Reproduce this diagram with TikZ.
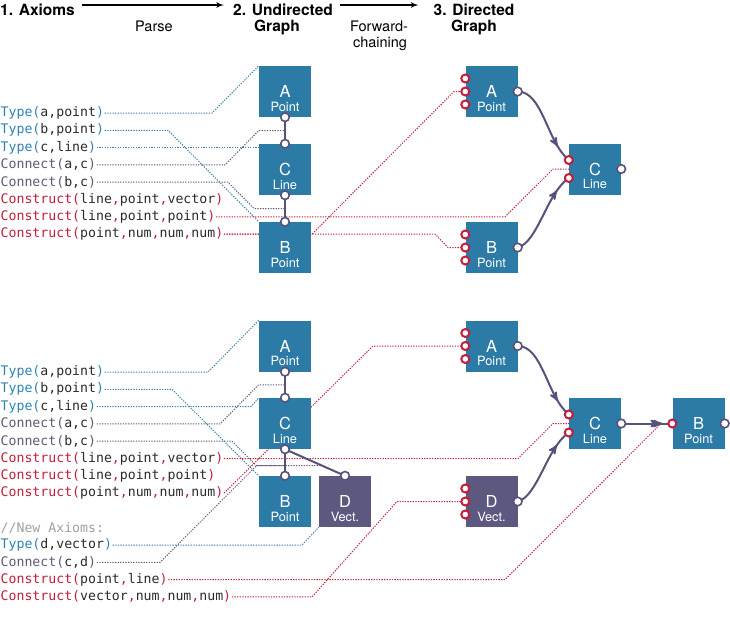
\documentclass[tikz,border=0pt]{standalone}
\usepackage{fontspec}
\setmainfont{TeX Gyre Heros}
\setmonofont{DejaVu Sans Mono}
\usepackage{xcolor}
\usetikzlibrary{arrows, decorations.markings, backgrounds}
\definecolor{boxblue}{HTML}{2C7AA6}
\definecolor{boxpurple}{HTML}{5D5880}
\definecolor{linkcol}{HTML}{57527A}
\definecolor{tycol}{HTML}{2D82B5}
\definecolor{cncol}{HTML}{5E5A7A}
\definecolor{cscol}{HTML}{C41E3A}
\definecolor{argcol}{HTML}{2A2A2A}
\definecolor{tydots}{HTML}{3F7DAA}
\tikzstyle{block}=[rectangle, minimum width=52pt, minimum height=51pt, inner sep=0pt, text=white, font=\fontsize{16.5}{16.5}\selectfont]
\tikzstyle{ublock}=[block, fill=boxblue]
\tikzstyle{vblock}=[block, fill=boxpurple]
\tikzstyle{typ}=[anchor=south, inner sep=0pt, yshift=5.5pt, text=white, font=\fontsize{12.8}{12.8}\selectfont]
\tikzstyle{axiom}=[anchor=west, inner sep=0.5pt, text=argcol, font=\ttfamily\fontsize{13.2}{13.2}\selectfont]
\tikzstyle{head}=[anchor=base, inner sep=0pt, font=\bfseries\fontsize{15.5}{15.5}\selectfont]
\tikzstyle{note}=[anchor=base, inner sep=0pt, font=\fontsize{14.5}{14.5}\selectfont]
\tikzstyle{link}=[draw=linkcol, line width=2pt]
\tikzstyle{outport}=[draw=linkcol, fill=white, line width=1.6pt]
\tikzstyle{inport}=[draw=cscol, fill=white, line width=2pt]
\tikzstyle{dots}=[line width=1pt, dash pattern=on 1.3pt off 1.3pt]
\tikzstyle{tyline}=[dots, draw=tydots]
\tikzstyle{cnline}=[dots, draw=cncol]
\tikzstyle{csline}=[dots, draw=cscol]
\tikzstyle{flow}=[draw=linkcol, line width=2pt, postaction={decorate}, decoration={markings, mark=at position 0.8 with {\arrow{stealth'}}}]
\newcommand{\Ty}[1]{{\color{tycol}Type(}#1{\color{tycol})}}
\newcommand{\Cn}[1]{{\color{cncol}Connect(}#1{\color{cncol})}}
\newcommand{\Cs}[1]{{\color{cscol}Construct(}#1{\color{cscol})}}
\def\cc{{\color{cscol},}}

\begin{document}
\begin{tikzpicture}[x=1pt, y=-1pt]
	\useasboundingbox (0,0) rectangle (730,622);
	% headings
	\node[head, anchor=base west] (h1) at (0,15) {1. Axioms};
	\node[head] (h2) at (283,15) {2. Undirected};
	\node[head] (h2b) at (277,31) {Graph};
	\node[head] (h3) at (474,15) {3. Directed};
	\node[head] (h3b) at (474,31) {Graph};
	\node[note] (parse) at (154,31) {Parse};
	\node[note] (fwd) at (379,31) {Forward-};
	\node[note] (fwdb) at (380,47) {chaining};
	\draw[-latex', line width=1.6pt] ([xshift=7pt, yshift=10pt]h1.base east) -- ([xshift=-9pt, yshift=10pt]h2.base west);
	\draw[-latex', line width=1.6pt] ([xshift=7pt, yshift=10pt]h2.base east) -- ([xshift=-15pt, yshift=10pt]h3.base west);

	% axioms, first set
	\node[axiom] (t1) at (0,113) {\Ty{a,point}};
	\node[axiom] (t2) at (0,130.3) {\Ty{b,point}};
	\node[axiom] (t3) at (0,147.6) {\Ty{c,line}};
	\node[axiom] (t4) at (0,164.9) {\Cn{a,c}};
	\node[axiom] (t5) at (0,182.2) {\Cn{b,c}};
	\node[axiom] (t6) at (0,199.5) {\Cs{line\cc point\cc vector}};
	\node[axiom] (t7) at (0,216.8) {\Cs{line\cc point\cc point}};
	\node[axiom] (t8) at (0,234.1) {\Cs{point\cc num\cc num\cc num}};

	% axioms, second set
	\node[axiom] (u1) at (0,372) {\Ty{a,point}};
	\node[axiom] (u2) at (0,389.3) {\Ty{b,point}};
	\node[axiom] (u3) at (0,406.6) {\Ty{c,line}};
	\node[axiom] (u4) at (0,423.9) {\Cn{a,c}};
	\node[axiom] (u5) at (0,441.2) {\Cn{b,c}};
	\node[axiom] (u6) at (0,458.5) {\Cs{line\cc point\cc vector}};
	\node[axiom] (u7) at (0,475.8) {\Cs{line\cc point\cc point}};
	\node[axiom] (u8) at (0,493.1) {\Cs{point\cc num\cc num\cc num}};
	\node[axiom, text=gray!75] (u9) at (0,527.7) {//New Axioms:};
	\node[axiom] (u10) at (0,545) {\Ty{d,vector}};
	\node[axiom] (u11) at (0,562.3) {\Cn{c,d}};
	\node[axiom] (u12) at (0,579.6) {\Cs{point\cc line}};
	\node[axiom] (u13) at (0,596.9) {\Cs{vector\cc num\cc num\cc num}};

	% undirected graphs
	\node[ublock, label={[typ]south:Point}] (A1) at (285,91.5) {A};
	\node[ublock, label={[typ]south:Line}] (C1) at (285,169.5) {C};
	\node[ublock, label={[typ]south:Point}] (B1) at (285,247.5) {B};
	\node[ublock, label={[typ]south:Point}] (A3) at (285,346) {A};
	\node[ublock, label={[typ]south:Line}] (C3) at (285,423.5) {C};
	\node[ublock, label={[typ]south:Point}] (B3) at (285,501.5) {B};
	\node[vblock, label={[typ]south:Vect.}] (D3) at (345,501.5) {D};

	% directed graphs
	\node[ublock, label={[typ]south:Point}] (A2) at (491.5,91.5) {A};
	\node[ublock, label={[typ]south:Point}] (B2) at (491.5,247.5) {B};
	\node[ublock, label={[typ]south:Line}] (C2) at (595,169) {C};
	\node[ublock, label={[typ]south:Point}] (A4) at (491.5,346) {A};
	\node[vblock, label={[typ]south:Vect.}] (D4) at (491.5,501.5) {D};
	\node[ublock, label={[typ]south:Line}] (C4) at (595,423.5) {C};
	\node[ublock, label={[typ]south:Point}] (B4) at (698.5,423.5) {B};

	\draw[link] (A1.south) -- coordinate[midway] (mAC1) (C1.north);
	\draw[link] (C1.south) -- coordinate[midway] (mCB1) (B1.north);
	\draw[link] (A3.south) -- coordinate[midway] (mAC3) (C3.north);
	\draw[link] (C3.south) -- coordinate[pos=0.62] (mCB3) (B3.north);
	\draw[link] (C3.south) -- coordinate[pos=0.62] (mCD3) (D3.north);

	\draw[flow] (A2.east) .. controls +(25,0) and +(-22,-18) .. ([yshift=9pt]C2.west);
	\draw[flow] (B2.east) .. controls +(20,-5) and +(-22,15) .. ([yshift=-9pt]C2.west);
	\draw[flow] (A4.east) .. controls +(25,0) and +(-22,-18) .. ([yshift=9pt]C4.west);
	\draw[flow] (D4.east) .. controls +(20,-5) and +(-22,15) .. ([yshift=-9pt]C4.west);
	\draw[flow, decoration={markings, mark=at position 0.75 with {\arrow{stealth'}}}] (C4.east) -- (B4.west);

	% ports
	\draw[outport] (A1.south) circle (4.3pt);
	\draw[outport] (C1.north) circle (4.3pt);
	\draw[outport] (C1.south) circle (4.3pt);
	\draw[outport] (B1.north) circle (4.3pt);
	\draw[outport] (A3.south) circle (4.3pt);
	\draw[outport] (C3.north) circle (4.3pt);
	\draw[outport] (C3.south) circle (4.3pt);
	\draw[outport] (B3.north) circle (4.3pt);
	\draw[outport] (D3.north) circle (4.3pt);
	\draw[outport] (A2.east) circle (4.3pt);
	\draw[outport] (B2.east) circle (4.3pt);
	\draw[outport] (C2.east) circle (4.3pt);
	\draw[outport] (A4.east) circle (4.3pt);
	\draw[outport] (D4.east) circle (4.3pt);
	\draw[outport] (C4.east) circle (4.3pt);
	\draw[outport] (B4.east) circle (4.3pt);
	\draw[inport] ([yshift=13pt]A2.west) circle (4pt);
	\draw[inport] (A2.west) circle (4pt);
	\draw[inport] ([yshift=-13pt]A2.west) circle (4pt);
	\draw[inport] ([yshift=13pt]B2.west) circle (4pt);
	\draw[inport] (B2.west) circle (4pt);
	\draw[inport] ([yshift=-13pt]B2.west) circle (4pt);
	\draw[inport] ([yshift=9pt]C2.west) circle (4pt);
	\draw[inport] ([yshift=-9pt]C2.west) circle (4pt);
	\draw[inport] ([yshift=13pt]A4.west) circle (4pt);
	\draw[inport] (A4.west) circle (4pt);
	\draw[inport] ([yshift=-13pt]A4.west) circle (4pt);
	\draw[inport] ([yshift=13pt]D4.west) circle (4pt);
	\draw[inport] (D4.west) circle (4pt);
	\draw[inport] ([yshift=-13pt]D4.west) circle (4pt);
	\draw[inport] ([yshift=9pt]C4.west) circle (4pt);
	\draw[inport] ([yshift=-9pt]C4.west) circle (4pt);
	\draw[inport] (B4.west) circle (4pt);

	% dotted traces, behind the boxes
	\begin{scope}[on background layer]
		\draw[tyline] (t1.east) -- (212,113) -- (A1.north west);
		\draw[tyline] (t2.east) -- (168,130.3) -- (B1.north west);
		\draw[tyline] (t3.east) -- (t3.east -| C1.west);
		\draw[cnline] (t4.east) -- (225,164.9) -- (mAC1 -| A1.west) -- (mAC1);
		\draw[cnline] (t5.east) -- (228,182.2) -- (254,208.5) -- (mCB1);
		\draw[csline] (t7.east) -- (505,216.8) -- (553,169) -- (C2.west);
		\draw[csline] (t8.east) -- (312,234.1) -- (454,91.5) -- (A2.west);
		\draw[csline] (t8.east) -- (435,234.1) -- (448,247.5) -- (B2.west);

		\draw[tyline] (u1.east) -- (208,372) -- (A3.north west);
		\draw[tyline] (u2.east) -- (172,389.3) -- (B3.north west);
		\draw[tyline] (u3.east) -- (251,406.6) -- (C3.north west);
		\draw[cnline] (u4.east) -- (220,423.9) -- (258.5,385) -- (mAC3);
		\draw[cnline] (u5.east) -- (232,441.2) -- (256.5,465.7) -- (mCB3);
		\draw[csline] (u6.east) -- (518,458.5) -- (553,423.5) -- (C4.west);
		\draw[csline] (u8.east) -- (373,346) -- (A4.west);
		\draw[tyline] (u10.east) -- (302,545) -- (D3.south west);
		\draw[cnline] (u11.east) -- (160,562.3) -- (256.5,465.7) -- (mCD3);
		\draw[csline] (u12.east) -- (505,579.6) -- (661,423.5) -- (B4.west);
		\draw[csline] (u13.east) -- (312,596.9) -- (397,501.5) -- (D4.west);
	\end{scope}
\end{tikzpicture}
\end{document}
